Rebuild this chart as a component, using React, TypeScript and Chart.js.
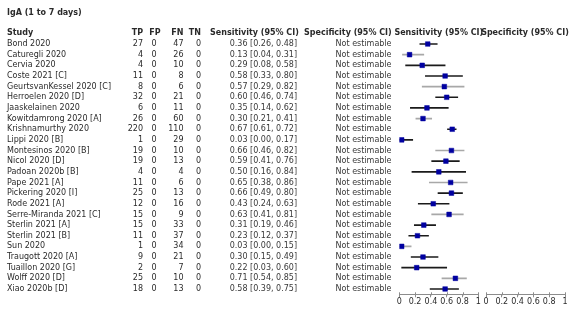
import React, { useEffect, useRef } from "react";
import { Chart, registerables } from "chart.js";

Chart.register(...registerables);

const title = "IgA (1 to 7 days)";
const studies = [
  "Bond 2020",
  "Caturegli 2020",
  "Cervia 2020",
  "Coste 2021 [C]",
  "GeurtsvanKessel 2020 [C]",
  "Herroelen 2020 [D]",
  "Jaaskelainen 2020",
  "Kowitdamrong 2020 [A]",
  "Krishnamurthy 2020",
  "Lippi 2020 [B]",
  "Montesinos 2020 [B]",
  "Nicol 2020 [D]",
  "Padoan 2020b [B]",
  "Pape 2021 [A]",
  "Pickering 2020 [I]",
  "Rode 2021 [A]",
  "Serre-Miranda 2021 [C]",
  "Sterlin 2021 [A]",
  "Sterlin 2021 [B]",
  "Sun 2020",
  "Traugott 2020 [A]",
  "Tuaillon 2020 [G]",
  "Wolff 2020 [D]",
  "Xiao 2020b [D]",
];
const tp = [27, 4, 4, 11, 8, 32, 6, 26, 220, 1, 19, 19, 4, 11, 25, 12, 15, 15, 11, 1, 9, 2, 25, 18];
const fp = [0, 0, 0, 0, 0, 0, 0, 0, 0, 0, 0, 0, 0, 0, 0, 0, 0, 0, 0, 0, 0, 0, 0, 0];
const fn = [47, 26, 10, 8, 6, 21, 11, 60, 110, 29, 10, 13, 4, 6, 13, 16, 9, 33, 37, 34, 21, 7, 10, 13];
const tn = [0, 0, 0, 0, 0, 0, 0, 0, 0, 0, 0, 0, 0, 0, 0, 0, 0, 0, 0, 0, 0, 0, 0, 0];
const sens = [0.36, 0.13, 0.29, 0.58, 0.57, 0.6, 0.35, 0.3, 0.67, 0.03, 0.66, 0.59, 0.5, 0.65, 0.66, 0.43, 0.63, 0.31, 0.23, 0.03, 0.3, 0.22, 0.71, 0.58];
const sensLo = [0.26, 0.04, 0.08, 0.33, 0.29, 0.46, 0.14, 0.21, 0.61, 0.0, 0.46, 0.41, 0.16, 0.38, 0.49, 0.24, 0.41, 0.19, 0.12, 0.0, 0.15, 0.03, 0.54, 0.39];
const sensHi = [0.48, 0.31, 0.58, 0.8, 0.82, 0.74, 0.62, 0.41, 0.72, 0.17, 0.82, 0.76, 0.84, 0.86, 0.8, 0.63, 0.81, 0.46, 0.37, 0.15, 0.49, 0.6, 0.85, 0.75];
const specText = "Not estimable";
const xTicks = [0, 0.2, 0.4, 0.6, 0.8, 1];

const FONT = "'DejaVu Sans', Verdana, sans-serif";
const TEXT = "#2a2a2a";
const TEXT_L = "#383838";
const AXIS = "#8c8c8c";
const SQUARE = "#0000a0";

const W = 572;
const H = 312;
const TOP = 38.7;
const AXIS_H = 17.7;
const SENS_L = 399.3;
const SENS_R = 478.3;
const SPEC_L = 486;
const SPEC_R = 565;

const f2 = (v: number) => v.toFixed(2);

const xScale = () => ({
  type: "linear" as const,
  min: 0,
  max: 1,
  position: "bottom" as const,
  afterFit: (s: any) => {
    s.height = AXIS_H;
  },
  afterBuildTicks: (s: any) => {
    s.ticks = xTicks.map((v) => ({ value: v }));
  },
  ticks: {
    font: { family: FONT, size: 8 },
    color: TEXT,
    padding: 0,
    maxRotation: 0,
    autoSkip: false,
    callback: (v: any) => String(Number(v)),
  },
  grid: { display: true, drawOnChartArea: false, drawTicks: true, tickLength: 3, color: AXIS },
  border: { display: true, color: AXIS, width: 1 },
});

// small tick marks above the axis line, so ticks cross it
const tickUpPlugin = {
  id: "tickUp",
  afterDraw(chart: any) {
    const x = chart.scales.x;
    const ctx = chart.ctx;
    ctx.save();
    ctx.strokeStyle = AXIS;
    ctx.lineWidth = 1;
    ctx.beginPath();
    xTicks.forEach((v) => {
      const px = Math.round(x.getPixelForValue(v)) + 0.5;
      ctx.moveTo(px, x.top - 2);
      ctx.lineTo(px, x.top + 1);
    });
    ctx.stroke();
    ctx.restore();
  },
};

const tablePlugin = {
  id: "forestTable",
  afterDraw(chart: any) {
    const ctx = chart.ctx;
    const y = chart.scales.y;
    const ca = chart.chartArea;
    ctx.save();
    ctx.fillStyle = TEXT;
    ctx.textBaseline = "middle";
    ctx.font = `bold 8px ${FONT}`;
    ctx.textAlign = "left";
    ctx.fillText(title, 7, 13);
    const hy = y.getPixelForValue(-1);
    ctx.fillText("Study", 7, hy);
    ctx.textAlign = "right";
    ctx.fillText("TP", 143, hy);
    ctx.fillText("FP", 160.5, hy);
    ctx.fillText("FN", 183.5, hy);
    ctx.fillText("TN", 201, hy);
    ctx.textAlign = "left";
    ctx.fillText("Sensitivity (95% CI)", 210, hy);
    ctx.fillText("Specificity (95% CI)", 304, hy);
    ctx.textAlign = "center";
    ctx.fillText("Sensitivity (95% CI)", (ca.left + ca.right) / 2, hy);
    ctx.fillText("Specificity (95% CI)", (SPEC_L + SPEC_R) / 2 - 0.5, hy);

    ctx.font = `8px ${FONT}`;
    studies.forEach((name, i) => {
      const ry = y.getPixelForValue(i);
      ctx.fillStyle = TEXT;
      ctx.textAlign = "left";
      ctx.fillText(name, 7, ry);
      ctx.textAlign = "right";
      ctx.fillText(String(tp[i]), 143, ry);
      ctx.fillText(String(fp[i]), 156.5, ry);
      ctx.fillText(String(fn[i]), 183.5, ry);
      ctx.fillText(String(tn[i]), 201, ry);
      ctx.fillStyle = TEXT_L;
      ctx.fillText(`${f2(sens[i])} [${f2(sensLo[i])}, ${f2(sensHi[i])}]`, 297, ry);
      ctx.fillText(specText, 391.5, ry);
    });
    ctx.restore();
  },
};

export default function App() {
  const mainRef = useRef<HTMLCanvasElement>(null);
  const specRef = useRef<HTMLCanvasElement>(null);

  useEffect(() => {
    if (!mainRef.current || !specRef.current) return;
    const ciColors = studies.map((_, i) => (i % 3 === 1 ? "#a8a8a8" : "#1a1a1a"));
    const main = new Chart(mainRef.current, {
      type: "bar",
      data: {
        labels: studies,
        datasets: [
          {
            type: "line",
            indexAxis: "y",
            data: studies.map((s, i) => ({ x: sens[i], y: s })),
            showLine: false,
            pointStyle: "rect",
            pointRadius: 3.3,
            pointBorderWidth: 0.5,
            pointBackgroundColor: SQUARE,
            pointBorderColor: SQUARE,
            order: 0,
          } as any,
          {
            type: "bar",
            indexAxis: "y",
            data: studies.map((_, i) => [sensLo[i], sensHi[i]]),
            backgroundColor: ciColors,
            borderWidth: 0,
            barThickness: 1,
            order: 1,
          } as any,
        ],
      },
      options: {
        indexAxis: "y",
        responsive: false,
        animation: false,
        events: [],
        layout: { padding: { left: SENS_L, right: W - SENS_R, top: TOP, bottom: 0 } },
        plugins: { legend: { display: false }, tooltip: { enabled: false } },
        scales: {
          x: xScale() as any,
          y: { type: "category", offset: true, display: false, grid: { display: false } },
        },
      },
      plugins: [tablePlugin, tickUpPlugin],
    });

    const spec = new Chart(specRef.current, {
      type: "scatter",
      data: { datasets: [{ data: [] }] },
      options: {
        responsive: false,
        animation: false,
        events: [],
        layout: { padding: { left: SPEC_L, right: W - SPEC_R, top: TOP, bottom: 0 } },
        plugins: { legend: { display: false }, tooltip: { enabled: false } },
        scales: {
          x: xScale() as any,
          y: { type: "linear", min: 0, max: 1, display: false },
        },
      },
      plugins: [tickUpPlugin],
    });

    return () => {
      main.destroy();
      spec.destroy();
    };
  }, []);

  return (
    <div style={{ position: "absolute", left: 0, top: 0, width: W, height: H, background: "#fff" }}>
      <canvas ref={mainRef} width={W} height={H} style={{ position: "absolute", left: 0, top: 0 }} />
      <canvas ref={specRef} width={W} height={H} style={{ position: "absolute", left: 0, top: 0 }} />
    </div>
  );
}
